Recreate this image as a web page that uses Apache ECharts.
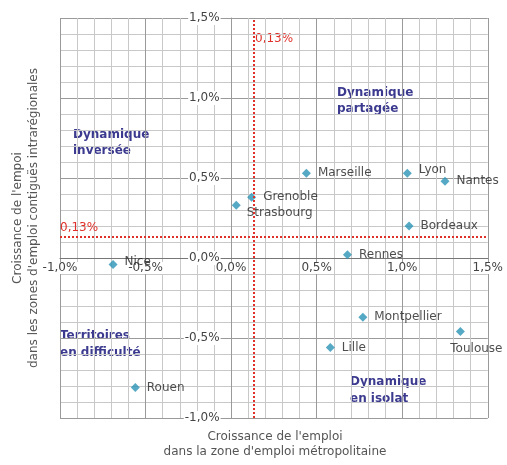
<!DOCTYPE html>
<html>
<head>
<meta charset="utf-8">
<script src="https://cdn.jsdelivr.net/npm/echarts@6/dist/echarts.min.js"></script>
<style>
  html, body { margin: 0; padding: 0; background: #fff; }
  #chart { width: 507px; height: 465px; }
</style>
</head>
<body>
<div id="chart"></div>
<script>
// growth of employment, in %
const cities = ['Nice', 'Rouen', 'Strasbourg', 'Grenoble', 'Marseille', 'Lyon', 'Nantes', 'Bordeaux', 'Rennes', 'Montpellier', 'Lille', 'Toulouse'];
const metroGrowth = [-0.69, -0.56, 0.03, 0.12, 0.44, 1.03, 1.25, 1.04, 0.68, 0.77, 0.58, 1.34];
const regionalGrowth = [-0.04, -0.81, 0.33, 0.38, 0.53, 0.53, 0.48, 0.20, 0.02, -0.37, -0.56, -0.46];
const threshold = 0.13;
const axisMin = -1.0;
const axisMax = 1.5;
const axisStep = 0.5;

const FONT = 'DejaVu Sans';
const fmt = v => v.toFixed(2).replace(/0$/, '').replace('.', ',') + '%';
const tickFmt = v => v.toFixed(1).replace('.', ',') + '%';

const W = 507, H = 465;
const grid = { left: 60, right: 18, top: 18, bottom: 47 };
// the axes cross at zero: shift them inward from the grid edges
const plotW = W - grid.left - grid.right;
const plotH = H - grid.top - grid.bottom;
const zeroFromLeft = plotW * (0 - axisMin) / (axisMax - axisMin);
const zeroFromBottom = plotH * (0 - axisMin) / (axisMax - axisMin);

// label placement that differs from the default (right of the marker)
const labelPlace = {
  Strasbourg: { position: 'right', offset: [-1, 8] },
  Toulouse: { position: 'bottom', offset: [16, 0] },
  Nice: { position: 'right', offset: [0, -3] },
  Lyon: { position: 'right', offset: [0, -3] }
};

const points = cities.map((c, i) => {
  const item = { name: c, value: [metroGrowth[i], regionalGrowth[i]] };
  if (labelPlace[c]) item.label = labelPlace[c];
  return item;
});

function axis(extra, labelOpts, lineColor) {
  return Object.assign({
    type: 'value',
    min: axisMin,
    max: axisMax,
    interval: axisStep,
    axisLine: { show: true, onZero: false, lineStyle: { color: lineColor, width: 1 } },
    axisTick: { show: false },
    minorTick: { show: false, splitNumber: 5 },
    splitLine: { show: true, lineStyle: { color: '#9a9a9a', width: 1 } },
    minorSplitLine: { show: true, lineStyle: { color: '#c8c8c8', width: 1 } },
    axisLabel: Object.assign({
      formatter: tickFmt,
      fontFamily: FONT,
      fontSize: 12,
      color: '#444',
      backgroundColor: '#fff',
      showMinLabel: true,
      showMaxLabel: true
    }, labelOpts)
  }, extra);
}

const myChart = echarts.init(document.getElementById('chart'));
myChart.setOption({
  animation: false,
  grid: grid,
  xAxis: axis({ position: 'bottom', offset: -zeroFromBottom }, { margin: 4, padding: [0, 1] }, '#777'),
  yAxis: axis({ position: 'left', offset: -zeroFromLeft }, { margin: 11, padding: [1, 1] }, '#9a9a9a'),
  series: [{
    type: 'scatter',
    symbol: 'diamond',
    symbolSize: 9,
    itemStyle: { color: '#2a93b5' },
    label: {
      show: true,
      position: 'right',
      distance: 7,
      formatter: p => p.name,
      fontFamily: FONT,
      fontSize: 12,
      color: '#222'
    },
    data: points,
    markLine: {
      silent: true,
      symbol: 'none',
      lineStyle: { color: '#e0302a', type: [2, 2], width: 2 },
      label: { show: false },
      data: [
        { xAxis: threshold },
        {
          yAxis: threshold,
          label: {
            show: true,
            position: 'insideStartTop',
            distance: [0, 3],
            formatter: fmt(threshold),
            fontFamily: FONT,
            fontSize: 12,
            color: '#e0302a'
          }
        }
      ]
    }
  }],
  graphic: [
    { type: 'text', x: 255, y: 33, style: { text: fmt(threshold), font: '12px "DejaVu Sans"', fill: '#e0302a' } },
    { type: 'text', x: 73, y: 127, style: { text: 'Dynamique\ninversée', font: 'bold 12px "DejaVu Sans"', fill: '#3b3a8f', lineHeight: 16 } },
    { type: 'text', x: 337, y: 85, style: { text: 'Dynamique\npartagée', font: 'bold 12px "DejaVu Sans"', fill: '#3b3a8f', lineHeight: 16 } },
    { type: 'text', x: 60, y: 327, style: { text: 'Territoires\nen difficulté', font: 'bold 12px "DejaVu Sans"', fill: '#3b3a8f', lineHeight: 17 } },
    { type: 'text', x: 350, y: 373, style: { text: 'Dynamique\nen isolat', font: 'bold 12px "DejaVu Sans"', fill: '#3b3a8f', lineHeight: 17 } },
    {
      type: 'text', x: 275, y: 444,
      style: { text: "Croissance de l'emploi\ndans la zone d'emploi métropolitaine", font: '12px "DejaVu Sans"', fill: '#555', align: 'center', verticalAlign: 'middle', lineHeight: 15 }
    },
    {
      type: 'text', x: 26, y: 218, rotation: Math.PI / 2,
      style: { text: "Croissance de l'empoi\ndans les zones d'emploi contiguës intrarégionales", font: '12px "DejaVu Sans"', fill: '#555', align: 'center', verticalAlign: 'middle', lineHeight: 16 }
    }
  ]
});
</script>
</body>
</html>
